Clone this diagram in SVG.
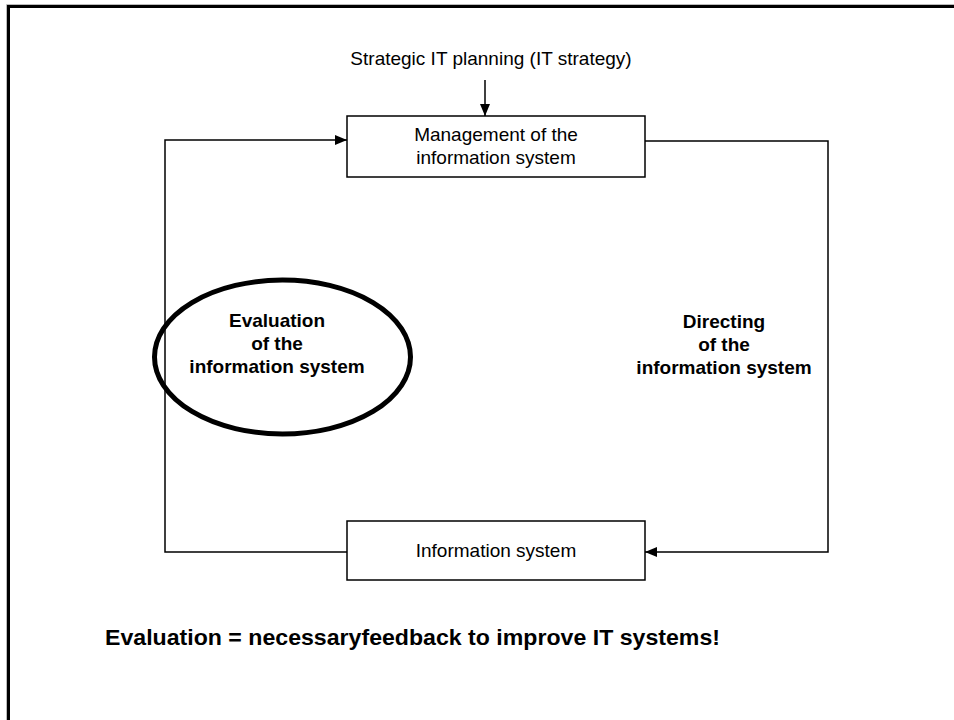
<svg xmlns="http://www.w3.org/2000/svg" width="954" height="720" viewBox="0 0 954 720">
<style>
.box{fill:#fff;stroke:#000;stroke-width:1.5}
.ln{fill:none;stroke:#000;stroke-width:1.5}
.t{font-family:"Liberation Sans",Arial,sans-serif;font-size:19px;fill:#000;text-anchor:middle}
.b{font-weight:bold}
</style>
<defs>
<marker id="ah" viewBox="0 0 12 10" refX="12" refY="5" markerWidth="12" markerHeight="10" markerUnits="userSpaceOnUse" orient="auto">
<path d="M0,0 L12,5 L0,10 Z" fill="#000"/>
</marker>
</defs>
<rect width="954" height="720" fill="#fff"/>
<g id="frame">
<path d="M6.5,720 V4.5 H954" fill="none" stroke="#bbb" stroke-width="1"/>
<path d="M8.5,720 V6.5 H954" fill="none" stroke="#000" stroke-width="3"/>
</g>
<g id="connectors">
<line class="ln" x1="485" y1="80" x2="485" y2="116" marker-end="url(#ah)"/>
<polyline class="ln" points="347,552 165,552 165,140 347,140" marker-end="url(#ah)"/>
<polyline class="ln" points="645,141 828,141 828,552 645,552" marker-end="url(#ah)"/>
</g>
<g id="strategic">
<text class="t" x="491" y="65">Strategic IT planning (IT strategy)</text>
</g>
<g id="management">
<rect class="box" x="347" y="116" width="298" height="61"/>
<text class="t" x="496" y="141">Management of the</text>
<text class="t" x="496" y="164">information system</text>
</g>
<g id="evaluation">
<ellipse cx="282.5" cy="357" rx="128" ry="77" fill="none" stroke="#000" stroke-width="5"/>
<text class="t b" x="277" y="327">Evaluation</text>
<text class="t b" x="277" y="350">of the</text>
<text class="t b" x="277" y="373">information system</text>
</g>
<g id="directing">
<text class="t b" x="724" y="328">Directing</text>
<text class="t b" x="724" y="351">of the</text>
<text class="t b" x="724" y="374">information system</text>
</g>
<g id="infosystem">
<rect class="box" x="347" y="521" width="298" height="59"/>
<text class="t" x="496" y="557">Information system</text>
</g>
<g id="note">
<text x="105" y="645" font-family="'Liberation Sans',Arial,sans-serif" font-size="22" font-weight="bold" textLength="615" lengthAdjust="spacingAndGlyphs">Evaluation = necessaryfeedback to improve IT systems!</text>
</g>
</svg>
